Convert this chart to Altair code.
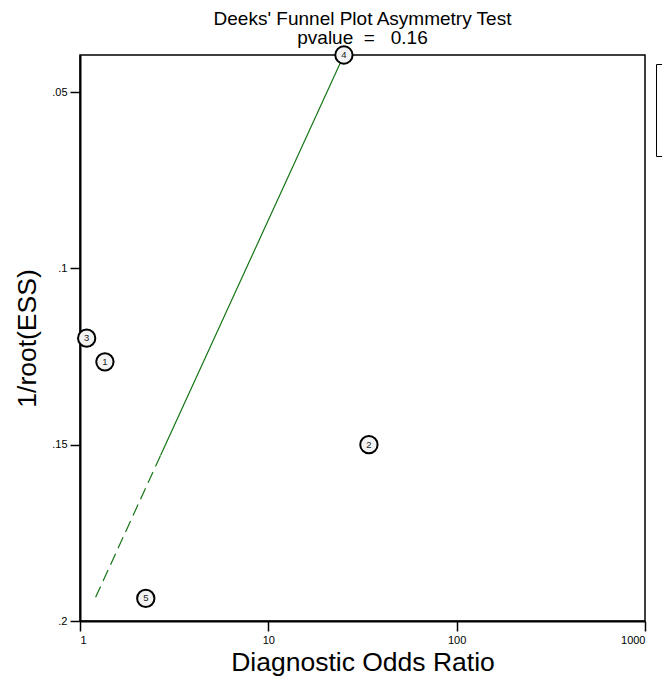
import altair as alt
import pandas as pd

# Study-level estimates: diagnostic odds ratio and 1/sqrt(effective sample size)
study = [1, 2, 3, 4, 5]
dor = [1.356, 34.2, 1.085, 25.2, 2.235]
inv_root_ess = [0.1265, 0.150, 0.1198, 0.0395, 0.1936]

# Fitted regression line (dashed where it extrapolates below the data)
reg_dor = [1.21, 2.68, 2.68, 25.2]
reg_y = [0.1933, 0.153, 0.153, 0.0395]
reg_part = ["dashed", "dashed", "solid", "solid"]

x_ticks = [1, 10, 100, 1000]
y_ticks = [0.05, 0.1, 0.15, 0.2]

FONT = "Liberation Sans"
GREEN = "#157515"

pts = pd.DataFrame({"study": study, "dor": dor, "y": inv_root_ess, "series": "Study"})
reg = pd.DataFrame({"dor": reg_dor, "y": reg_y, "part": reg_part, "series": "Regression Line"})

x_scale = alt.Scale(type="log", domain=[1, 1000], nice=False)
y_scale = alt.Scale(domain=[0.0395, 0.2], reverse=True, nice=False, zero=False)

x_enc = alt.X(
    "dor:Q",
    scale=x_scale,
    axis=alt.Axis(
        title="Diagnostic Odds Ratio",
        values=x_ticks,
        labelExpr="datum.value",
    ),
)
y_enc = alt.Y(
    "y:Q",
    scale=y_scale,
    axis=alt.Axis(
        title="1/root(ESS)",
        values=y_ticks,
        labelExpr="substring(format(datum.value, '.2~f'), 1)",
    ),
)

stroke_scale = alt.Scale(domain=["Study", "Regression Line"], range=["black", GREEN])
legend = alt.Legend(
    title=None,
    orient="none",
    legendX=576,
    legendY=9,
    strokeColor="black",
    fillColor="white",
    padding=20,
    rowPadding=11,
    labelFontSize=14,
    symbolSize=200,
)

line = alt.Chart(reg).mark_line(strokeWidth=1.2).encode(
    x=x_enc,
    y=y_enc,
    stroke=alt.Stroke("series:N", scale=stroke_scale, legend=legend),
    strokeDash=alt.StrokeDash(
        "part:N",
        scale=alt.Scale(domain=["solid", "dashed"], range=[[1, 0], [12, 6]]),
        legend=None,
    ),
)

circles = alt.Chart(pts).mark_point(
    shape="circle", filled=False, fill="#f3f3f3", fillOpacity=1, size=300, strokeWidth=2, opacity=1
).encode(
    x=x_enc,
    y=y_enc,
    stroke=alt.Stroke("series:N", scale=stroke_scale, legend=legend),
)

labels = alt.Chart(pts).mark_text(fontSize=9.5, font=FONT, color="#222").encode(
    x=x_enc,
    y=y_enc,
    text="study:Q",
)

chart = (
    alt.layer(line, circles, labels)
    .properties(
        width=565,
        height=566,
        autosize=alt.AutoSizeParams(type="none"),
        padding={"left": 80, "top": 55, "right": 17, "bottom": 57},
        title=alt.Title(
            text=["Deeks' Funnel Plot Asymmetry Test", "pvalue\u00a0\u00a0=\u00a0\u00a0\u00a00.16"],
            fontSize=19,
            font=FONT,
            fontWeight="normal",
            color="black",
            anchor="middle",
            lineHeight=19,
            offset=-6,
        ),
    )
    .configure_view(stroke="black", strokeWidth=1.5)
    .configure_axis(
        grid=False,
        domainColor="black",
        domainWidth=2,
        tickColor="black",
        tickWidth=1.5,
        tickSize=10,
        labelFont=FONT,
        labelFontSize=11,
        labelColor="black",
        labelPadding=3,
        titleFont=FONT,
        titleFontSize=26.5,
        titleFontWeight="normal",
        titleColor="black",
    )
    .configure_axisX(titlePadding=4)
    .configure_axisY(titlePadding=10)
)

chart.save("out.html", embed_options={"renderer": "svg", "actions": False})
